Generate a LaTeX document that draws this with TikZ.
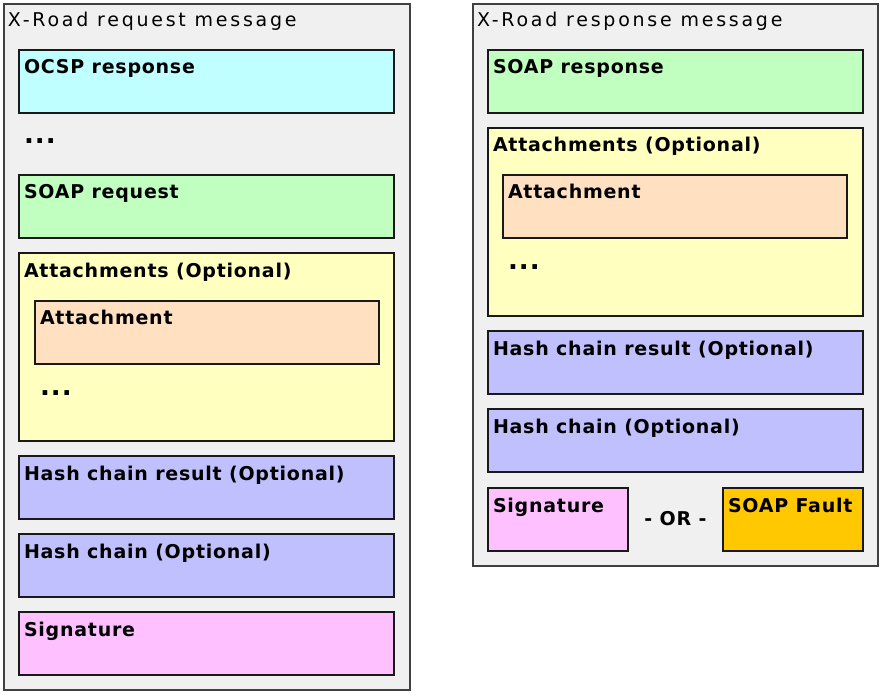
\documentclass[tikz,border=0pt]{standalone}
\usepackage{fontspec}
\setmainfont{DejaVu Sans}
\usetikzlibrary{positioning,calc}

\definecolor{framebg}{RGB}{240,240,240}
\definecolor{ocspc}{RGB}{192,255,255}
\definecolor{soapc}{RGB}{192,255,192}
\definecolor{attc}{RGB}{255,255,192}
\definecolor{onec}{RGB}{255,224,192}
\definecolor{hashc}{RGB}{192,192,255}
\definecolor{sigc}{RGB}{255,192,255}
\definecolor{faultc}{RGB}{255,200,0}

\begin{document}
\begin{tikzpicture}[x=1pt, y=-1pt,
    every node/.style={node distance=15pt, rectangle, inner sep=0pt, outer sep=0pt},
    frame/.style={draw=black!75, fill=framebg, line width=1.2pt, anchor=north west},
    box/.style={draw=black!90, line width=1.3pt, minimum width=375pt, minimum height=63pt},
    title/.style={anchor=base west, font=\fontsize{19}{23}\selectfont\addfontfeature{LetterSpace=14.5}},
    lbl/.style={anchor=base west, font=\fontsize{19}{23}\selectfont\bfseries\addfontfeature{LetterSpace=4}},
    more/.style={anchor=base west, font=\fontsize{26}{30}\selectfont\bfseries\addfontfeature{LetterSpace=4}}]

    \useasboundingbox (0,0) rectangle (883,695);

    % request message
    \node[frame, minimum width=406pt, minimum height=686pt] (req) at (4,4) {};
    \node[title] (reqt) at ([shift={(4,22.5)}]req.north west) {X-Road request message};

    \node[box, fill=ocspc, anchor=north west] (ocsp) at (19,50) {};
    \node[lbl] (ocspt) at ([shift={(5,24)}]ocsp.north west) {OCSP response};
    \node[more] (dotsa) at ([shift={(5,31)}]ocsp.south west) {...};

    \node[box, fill=soapc, below=62pt of ocsp] (soapreq) {};
    \node[lbl] (soapreqt) at ([shift={(5,24)}]soapreq.north west) {SOAP request};

    \node[box, fill=attc, minimum height=188pt, below=of soapreq] (attreq) {};
    \node[lbl] (attreqt) at ([shift={(5,24)}]attreq.north west) {Attachments (Optional)};
    \node[box, fill=onec, minimum width=344pt, anchor=north west] (onereq) at ([shift={(16,48)}]attreq.north west) {};
    \node[lbl] (onereqt) at ([shift={(5,23)}]onereq.north west) {Attachment};
    \node[more] (dotsb) at ([shift={(5,31)}]onereq.south west) {...};

    \node[box, fill=hashc, below=of attreq] (hrreq) {};
    \node[lbl] (hrreqt) at ([shift={(5,24)}]hrreq.north west) {Hash chain result (Optional)};
    \node[box, fill=hashc, below=of hrreq] (hcreq) {};
    \node[lbl] (hcreqt) at ([shift={(5,24)}]hcreq.north west) {Hash chain (Optional)};
    \node[box, fill=sigc, below=of hcreq] (sigreq) {};
    \node[lbl] (sigreqt) at ([shift={(5,24)}]sigreq.north west) {Signature};

    % response message
    \node[frame, minimum width=405pt, minimum height=562pt] (resp) at (473,4) {};
    \node[title] (respt) at ([shift={(4,22.5)}]resp.north west) {X-Road response message};

    \node[box, fill=soapc, anchor=north west] (soapresp) at (488,50) {};
    \node[lbl] (soaprespt) at ([shift={(5,24)}]soapresp.north west) {SOAP response};

    \node[box, fill=attc, minimum height=188pt, below=of soapresp] (attresp) {};
    \node[lbl] (attrespt) at ([shift={(5,24)}]attresp.north west) {Attachments (Optional)};
    \node[box, fill=onec, minimum width=344pt, anchor=north west] (oneresp) at ([shift={(15,47)}]attresp.north west) {};
    \node[lbl] (onerespt) at ([shift={(5,24)}]oneresp.north west) {Attachment};
    \node[more] (dotsc) at ([shift={(5,31)}]oneresp.south west) {...};

    \node[box, fill=hashc, below=of attresp] (hrresp) {};
    \node[lbl] (hrrespt) at ([shift={(5,24)}]hrresp.north west) {Hash chain result (Optional)};
    \node[box, fill=hashc, below=of hrresp] (hcresp) {};
    \node[lbl] (hcrespt) at ([shift={(5,24)}]hcresp.north west) {Hash chain (Optional)};

    \node[box, fill=sigc, minimum width=140pt, below=16pt of hcresp.south west, anchor=north west] (sigresp) {};
    \node[lbl] (sigrespt) at ([shift={(5,24)}]sigresp.north west) {Signature};
    \node[box, fill=faultc, minimum width=140pt, below=16pt of hcresp.south east, anchor=north east] (fault) {};
    \node[lbl] (faultt) at ([shift={(5,24)}]fault.north west) {SOAP Fault};

    \node[lbl, anchor=base] (or) at ($(sigresp.east)!0.5!(fault.west)+(0,6)$) {- OR -};
\end{tikzpicture}
\end{document}
